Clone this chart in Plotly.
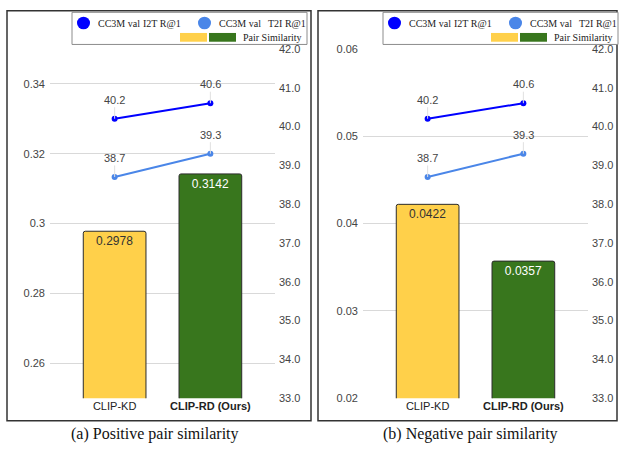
import plotly.graph_objects as go

W, H = 619, 451

categories = ["CLIP-KD", "CLIP-RD (Ours)"]
category_labels = ["CLIP-KD", "<b>CLIP-RD (Ours)</b>"]

pos_similarity = [0.2978, 0.3142]
neg_similarity = [0.0422, 0.0357]
i2t_r1 = [40.2, 40.6]
t2i_r1 = [38.7, 39.3]

pos_ticks = [0.26, 0.28, 0.30, 0.32, 0.34]
pos_tick_labels = ["0.26", "0.28", "0.3", "0.32", "0.34"]
neg_ticks = [0.02, 0.03, 0.04, 0.05, 0.06]
neg_tick_labels = ["0.02", "0.03", "0.04", "0.05", "0.06"]
recall_ticks = [33, 34, 35, 36, 37, 38, 39, 40, 41, 42]
recall_tick_labels = ["33.0", "34.0", "35.0", "36.0", "37.0", "38.0", "39.0", "40.0", "41.0", "42.0"]

captions = ["(a) Positive pair similarity", "(b) Negative pair similarity"]

YELLOW = "#FFD04A"
GREEN = "#38761D"
BLUE = "#0000FF"
LBLUE = "#4A86E8"
SANS = "Liberation Sans, Arial, sans-serif"
SERIF = "Liberation Serif, Times New Roman, serif"


def px(x):
    return x / W


def py(y):
    return 1 - y / H


fig = go.Figure()

panels = [
    dict(x="x", y="y", y2="y2", sim=pos_similarity),
    dict(x="x2", y="y3", y2="y4", sim=neg_similarity),
]

for p in panels:
    fig.add_trace(go.Bar(
        x=categories, y=p["sim"], xaxis=p["x"], yaxis=p["y"],
        width=0.655,
        marker=dict(color=[YELLOW, GREEN], line=dict(color="#2b2b2b", width=1), cornerradius=2),
        text=[f"{v:.4f}" for v in p["sim"]],
        textposition="inside", insidetextanchor="end",
        textfont=dict(family=SANS, size=12, color=["#333333", "#ffffff"]),
        showlegend=False, hoverinfo="skip",
    ))
    for vals, col in [(i2t_r1, BLUE), (t2i_r1, LBLUE)]:
        fig.add_trace(go.Scatter(
            x=categories, y=vals, xaxis=p["x"], yaxis=p["y2"],
            mode="lines+markers",
            line=dict(color=col, width=2),
            marker=dict(color=col, size=6),
            showlegend=False, hoverinfo="skip",
        ))
        for c, v in zip(categories, vals):
            fig.add_annotation(
                x=c, y=v, xref=p["x"], yref=p["y2"],
                text=f"{v:.1f}", showarrow=True, arrowhead=0, arrowwidth=1,
                arrowcolor="#e0e0e0", ax=0, ay=-19,
                font=dict(family=SANS, size=11, color="#444444"),
            )

ydom = [py(403), py(44)]
tickfont = dict(family=SANS, size=11, color="#444444")
catfont = dict(family=SANS, size=11, color="#222222")

common_x = dict(type="category", range=[-0.675, 1.675], showgrid=False, showline=False,
                zeroline=False, tickvals=categories, ticktext=category_labels,
                tickfont=catfont, ticks="", fixedrange=True)

fig.update_layout(
    width=W, height=H,
    margin=dict(l=0, r=0, t=0, b=0),
    paper_bgcolor="white", plot_bgcolor="rgba(0,0,0,0)",
    showlegend=False,
    xaxis=dict(domain=[px(50), px(275)], anchor="y", **common_x),
    xaxis2=dict(domain=[px(363), px(588)], anchor="y3", **common_x),
    yaxis=dict(domain=ydom, anchor="x", range=[0.25, 0.35], tickvals=pos_ticks,
               ticktext=pos_tick_labels, showgrid=True, gridcolor="#d9d9d9", gridwidth=1,
               zeroline=False, showline=False, tickfont=tickfont, ticks="", ticklabelstandoff=4),
    yaxis2=dict(domain=ydom, anchor="x", overlaying="y", side="right", range=[33, 42],
                tickvals=recall_ticks, ticktext=recall_tick_labels, showgrid=False,
                zeroline=False, showline=False, tickfont=tickfont, ticks="", ticklabelstandoff=3),
    yaxis3=dict(domain=ydom, anchor="x2", range=[0.02, 0.06], tickvals=neg_ticks,
                ticktext=neg_tick_labels, showgrid=True, gridcolor="#d9d9d9", gridwidth=1,
                zeroline=False, showline=False, tickfont=tickfont, ticks="", ticklabelstandoff=4),
    yaxis4=dict(domain=ydom, anchor="x2", overlaying="y3", side="right", range=[33, 42],
                tickvals=recall_ticks, ticktext=recall_tick_labels, showgrid=False,
                zeroline=False, showline=False, tickfont=tickfont, ticks="", ticklabelstandoff=3),
)

shapes = []
annotations = []

# panel frames
for x0, x1 in [(7, 311), (318, 617)]:
    shapes.append(dict(type="rect", xref="paper", yref="paper",
                       x0=px(x0), x1=px(x1), y0=py(426), y1=py(5),
                       line=dict(color="#333333", width=1.5), fillcolor="rgba(0,0,0,0)"))

legend_font = dict(family=SERIF, size=10, color="#222222")

# custom legends
for off in [0, 311]:
    lx0 = 72 + off
    shapes.append(dict(type="rect", xref="paper", yref="paper",
                       x0=px(lx0), x1=px(off + 307), y0=py(39.5), y1=py(6.5),
                       line=dict(color="#8c8c8c", width=1), fillcolor="white"))
    for cx, col, words, txs in [(83.5, BLUE, ["CC3M val", "I2T R@1"], [96, 141]),
                                (204.5, LBLUE, ["CC3M val", "T2I R@1"], [217, 266])]:
        shapes.append(dict(type="circle", xref="paper", yref="paper",
                           x0=px(off + cx - 6.5), x1=px(off + cx + 6.5),
                           y0=py(17.5 + 6.5), y1=py(17.5 - 6.5),
                           line=dict(width=0), fillcolor=col))
        for wtxt, tx in zip(words, txs):
            annotations.append(dict(x=px(off + tx), y=py(17.5), xref="paper", yref="paper",
                                    xanchor="left", yanchor="middle", showarrow=False,
                                    text=wtxt, font=legend_font))
    for rx0, rx1, col in [(180, 207, YELLOW), (209, 236, GREEN)]:
        shapes.append(dict(type="rect", xref="paper", yref="paper",
                           x0=px(off + rx0), x1=px(off + rx1), y0=py(36.7), y1=py(27.7),
                           line=dict(width=0), fillcolor=col))
    annotations.append(dict(x=px(off + 241), y=py(32), xref="paper", yref="paper",
                            xanchor="left", yanchor="middle", showarrow=False,
                            text="Pair Similarity", font=legend_font))

# captions
for cx, cap in zip([155, 470], captions):
    annotations.append(dict(x=px(cx), y=py(440), xref="paper", yref="paper",
                            xanchor="center", yanchor="middle", showarrow=False,
                            text=cap, font=dict(family=SERIF, size=16, color="#111111")))

fig.update_layout(shapes=shapes)
for a in annotations:
    fig.add_annotation(**a)

fig.write_html("out.html", config={"displayModeBar": False},
               post_script="document.body.style.margin='0px';document.body.style.overflow='hidden';")
